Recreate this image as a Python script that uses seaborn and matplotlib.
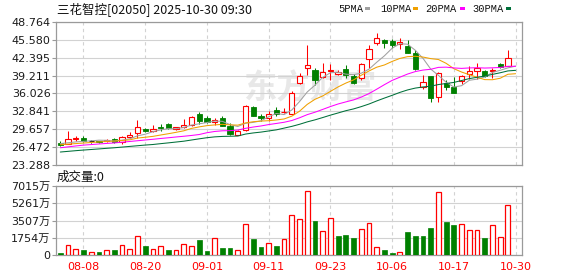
import matplotlib
matplotlib.use("Agg")
import matplotlib.pyplot as plt
import numpy as np
import pandas as pd
import seaborn as sns
from matplotlib.patches import Rectangle

sns.set_theme(style="white")
plt.rcParams['font.family'] = ['DejaVu Sans', 'Noto Sans CJK SC']

# ---------------- data ----------------
title = "三花智控[02050] 2025-10-30 09:30"
dates = ["08-05", "08-06", "08-07", "08-08", "08-11", "08-12", "08-13", "08-14", "08-15", "08-18",
         "08-19", "08-20", "08-21", "08-22", "08-25", "08-26", "08-27", "08-28", "08-29", "09-01",
         "09-02", "09-03", "09-04", "09-05", "09-08", "09-09", "09-10", "09-11", "09-12", "09-15",
         "09-16", "09-17", "09-18", "09-19", "09-22", "09-23", "09-24", "09-25", "09-26", "09-29",
         "09-30", "10-02", "10-03", "10-06", "10-08", "10-09", "10-10", "10-13", "10-14", "10-15",
         "10-16", "10-17", "10-20", "10-21", "10-22", "10-23", "10-24", "10-27", "10-28", "10-30"]
tick_dates = ["08-08", "08-20", "09-01", "09-11", "09-23", "10-06", "10-17", "10-30"]

opens = [27.24, 27.06, 27.94, 28.12, 27.53, 27.53, 27.53, 28.00, 27.47, 28.29,
         28.99, 29.70, 29.29, 30.05, 30.58, 29.76, 29.99, 30.46, 32.34, 31.63,
         30.93, 31.63, 30.17, 28.70, 29.58, 33.57, 32.10, 31.63, 33.10, 32.69,
         32.40, 37.90, 40.50, 40.15, 38.90, 40.10, 39.50, 40.34, 39.14, 38.74,
         42.10, 45.08, 45.58, 45.40, 44.85, 44.49, 43.30, 37.25, 39.14, 35.35,
         37.95, 37.24, 38.31, 39.45, 40.09, 40.09, 40.00, 41.20, 41.00]
highs = [27.53, 29.29, 28.53, 28.41, 27.82, 27.65, 27.94, 28.12, 28.53, 29.17,
         31.34, 29.88, 30.46, 30.58, 30.70, 30.05, 31.46, 31.93, 32.69, 31.93,
         31.63, 32.10, 30.75, 29.58, 33.98, 33.80, 32.46, 32.92, 33.68, 33.51,
         36.50, 39.70, 44.67, 40.50, 41.40, 41.30, 40.20, 41.10, 39.50, 41.42,
         44.67, 46.75, 45.70, 45.80, 45.90, 45.58, 43.76, 39.30, 39.20, 39.84,
         38.40, 38.90, 39.30, 40.98, 41.50, 40.20, 40.60, 41.40, 43.80]
lows = [26.65, 27.06, 27.53, 27.41, 27.24, 27.24, 27.41, 27.24, 27.06, 28.12,
        28.12, 29.17, 29.17, 29.29, 29.76, 29.52, 29.88, 30.17, 30.64, 30.75,
        30.46, 30.17, 28.70, 28.58, 29.41, 31.93, 31.16, 31.05, 32.10, 32.51,
        32.30, 37.70, 39.30, 37.60, 38.70, 38.40, 39.30, 38.80, 37.80, 38.50,
        40.50, 44.64, 44.08, 44.20, 44.00, 43.20, 40.13, 36.90, 34.60, 34.56,
        36.60, 36.10, 37.70, 38.60, 38.60, 38.96, 38.70, 40.50, 40.90]
closes = [26.83, 27.94, 28.12, 27.53, 27.53, 27.41, 27.82, 27.47, 28.35, 28.70,
          30.05, 29.29, 29.70, 29.94, 29.82, 29.99, 30.46, 31.81, 31.05, 30.93,
          31.28, 30.29, 28.82, 29.41, 33.80, 32.10, 31.63, 32.46, 32.34, 32.81,
          36.20, 39.13, 41.10, 38.43, 39.91, 40.20, 39.80, 39.32, 37.95, 41.23,
          43.90, 45.86, 45.08, 44.70, 45.25, 43.30, 40.35, 38.02, 35.17, 39.62,
          37.24, 36.17, 39.14, 40.03, 40.51, 39.14, 40.30, 40.80, 42.30]
close_before_first = 27.20
volumes_wan = [203, 983, 576, 508, 271, 305, 474, 508, 983, 576,
               1898, 915, 576, 881, 508, 474, 1085, 881, 1525, 407,
               1694, 712, 712, 474, 3118, 1627, 813, 1186, 915, 1593,
               4067, 3626, 6507, 3457, 2440, 3728, 1932, 2033, 1728, 2609,
               3219, 779, 508, 203, 305, 2338, 1932, 1932, 2745, 6371,
               3355, 3050, 3118, 2508, 2508, 1728, 3016, 1796, 5083]

ma5 = [27.10, 27.25, 27.40, 27.50, 27.59, 27.71, 27.68, 27.55, 27.72, 27.95,
       28.48, 28.77, 29.22, 29.54, 29.76, 29.75, 29.98, 30.40, 30.63, 30.85,
       31.11, 31.07, 30.47, 30.15, 30.72, 30.88, 31.15, 31.88, 32.47, 32.27,
       33.09, 34.59, 36.30, 37.51, 38.91, 39.71, 39.82, 39.47, 39.38, 39.64,
       40.36, 41.59, 42.74, 44.09, 44.90, 44.81, 43.73, 42.29, 40.38, 39.25,
       38.03, 37.18, 37.42, 38.38, 38.58, 38.96, 39.78, 40.16, 40.59, 40.90]
ma10 = [26.90, 27.00, 27.10, 27.20, 27.30, 27.40, 27.48, 27.55, 27.65, 27.77,
        28.09, 28.23, 28.39, 28.63, 28.86, 29.11, 29.38, 29.81, 30.08, 30.30,
        30.43, 30.53, 30.44, 30.39, 30.78, 31.00, 31.11, 31.18, 31.31, 31.49,
        31.99, 32.87, 34.09, 34.99, 35.59, 36.40, 37.20, 37.88, 38.45, 39.28,
        40.04, 40.71, 41.11, 41.74, 42.27, 42.59, 42.66, 42.52, 42.24, 42.08,
        41.40, 40.45, 39.85, 39.38, 38.92, 38.50, 38.48, 38.74, 39.45, 39.55]
ma20 = [26.36, 26.52, 26.68, 26.83, 26.93, 27.03, 27.13, 27.22, 27.35, 27.48,
        27.61, 27.74, 27.87, 28.01, 28.14, 28.28, 28.41, 28.55, 28.72, 29.04,
        29.26, 29.38, 29.41, 29.51, 29.82, 30.05, 30.24, 30.49, 30.69, 30.90,
        31.21, 31.70, 32.26, 32.69, 33.19, 33.70, 34.16, 34.53, 34.88, 35.39,
        36.01, 36.79, 37.60, 38.36, 38.93, 39.49, 39.93, 40.20, 40.34, 40.68,
        40.72, 40.58, 40.50, 40.58, 40.62, 40.56, 40.60, 40.66, 40.86, 40.88]
ma30 = [25.60, 25.72, 25.84, 25.95, 26.05, 26.15, 26.26, 26.36, 26.48, 26.60,
        26.72, 26.84, 26.94, 27.09, 27.23, 27.38, 27.53, 27.74, 27.95, 28.15,
        28.30, 28.38, 28.41, 28.45, 28.80, 29.00, 29.15, 29.35, 29.55, 29.86,
        30.17, 30.54, 30.97, 31.33, 31.74, 32.17, 32.56, 32.96, 33.28, 33.69,
        34.15, 34.70, 35.21, 35.70, 36.22, 36.66, 36.99, 37.19, 37.33, 37.62,
        37.81, 38.00, 38.34, 38.68, 38.91, 39.14, 39.43, 39.72, 40.05, 40.15]

price_ticks = ["23.288", "26.472", "29.657", "32.841", "36.026", "39.211", "42.395", "45.580", "48.764"]
vol_ticks = [0, 1754, 3507, 5261, 7015]
vol_tick_labels = ["0", "1754万", "3507万", "5261万", "7015万"]
ma_names = ["5PMA", "10PMA", "20PMA", "30PMA"]

# ---------------- styling ----------------
RED = "#ff0000"
GREEN = "#008000"
MA_COLORS = ["#a0a0a0", "#f0a000", "#ff00ff", "#00703a"]
GRID = "#d2d2d2"
SPINE = "#9a9a9a"

W, H = 578, 276
fig = plt.figure(figsize=(W / 100, H / 100), dpi=100)
fig.patch.set_facecolor("white")


def fx(px):
    return px / W


def fy(py):
    return 1 - py / H


L, R = 56, 522
ax = fig.add_axes([fx(L), fy(165), (R - L) / W, (165 - 22) / H])
axv = fig.add_axes([fx(L), fy(255), (R - L) / W, (255 - 186) / H])

n = len(closes)
idx = np.arange(n)
o = np.array(opens); c = np.array(closes); hi = np.array(highs); lo = np.array(lows)
up = c > o
dn = c < o
flat = c == o

# wicks
wick_colors = np.where(up, RED, np.where(dn, GREEN, "#000000"))
ax.vlines(idx, lo, hi, colors=wick_colors, linewidth=0.75, zorder=2)
# bodies
bw = 0.68
ax.bar(idx[up], (c - o)[up], bottom=o[up], width=bw, facecolor="white",
       edgecolor=RED, linewidth=0.8, zorder=3)
ax.bar(idx[dn], (o - c)[dn], bottom=c[dn], width=bw, facecolor=GREEN,
       edgecolor=GREEN, linewidth=0.6, zorder=3)
ax.hlines(o[flat], idx[flat] - bw / 2, idx[flat] + bw / 2, colors="#000000", linewidth=0.9, zorder=3)

# moving averages
slots = np.arange(len(ma5))
ma_df = pd.DataFrame({"slot": slots, "5PMA": ma5, "10PMA": ma10, "20PMA": ma20, "30PMA": ma30})
for name, col in zip(ma_names, MA_COLORS):
    sns.lineplot(data=ma_df, x="slot", y=name, ax=ax, color=col, linewidth=0.75,
                 estimator=None, legend=False, zorder=4)

# watermark
ax.text(0.545, 0.53, "东方财富", transform=ax.transAxes, ha="center", va="center",
        fontsize=24, color="#e8e8e8", fontweight="bold", zorder=0.3,
        family=["Noto Sans CJK SC", "DejaVu Sans"])

# volume
prev = np.concatenate([[close_before_first], c[:-1]])
vup = c >= prev
v = np.array(volumes_wan)
axv.bar(idx[vup], v[vup], width=0.62, facecolor="white", edgecolor=RED, linewidth=0.9, zorder=3)
axv.bar(idx[~vup], v[~vup], width=0.62, facecolor=GREEN, edgecolor=GREEN, linewidth=0.5, zorder=3)

tick_pos = [dates.index(d) for d in tick_dates]
xlim = (-0.56, 59.83)

# main axes styling
ax.set_xlim(*xlim)
ax.set_ylim(float(price_ticks[0]), float(price_ticks[-1]))
ax.set_yticks([float(t) for t in price_ticks])
ax.set_yticklabels(price_ticks)
ax.set_xticks(tick_pos)
ax.set_xticklabels([])
ax.set_xlabel(""); ax.set_ylabel("")
ax.grid(True, axis="y", color=GRID, linewidth=0.8, linestyle="-", zorder=0.5)
ax.grid(True, axis="x", color=GRID, linewidth=0.8, linestyle=(0, (3, 3)), zorder=0.5)
ax.set_axisbelow(True)
ax.tick_params(axis="y", left=True, length=3, width=0.8, color=SPINE, pad=1,
               labelsize=8, labelcolor="#1a1a1a")
ax.tick_params(axis="x", bottom=False, length=0)
for s in ax.spines.values():
    s.set_color(SPINE); s.set_linewidth(0.9); s.set_visible(True)

# volume axes styling
axv.set_xlim(*xlim)
axv.set_ylim(0, vol_ticks[-1])
axv.set_yticks(vol_ticks)
axv.set_yticklabels(vol_tick_labels)
axv.set_xticks(tick_pos)
axv.set_xticklabels(tick_dates)
axv.set_xlabel(""); axv.set_ylabel("")
axv.grid(True, axis="y", color=GRID, linewidth=0.8, linestyle="-")
axv.grid(True, axis="x", color=GRID, linewidth=0.8, linestyle=(0, (3, 3)))
axv.set_axisbelow(True)
axv.tick_params(axis="y", left=True, length=3, width=0.8, color=SPINE, pad=1,
                labelsize=8, labelcolor="#1a1a1a")
axv.tick_params(axis="x", bottom=False, length=0, pad=5, labelsize=8, labelcolor=RED)
for s in axv.spines.values():
    s.set_color(SPINE); s.set_linewidth(0.9); s.set_visible(True)

# header texts
fig.text(fx(57), fy(9.5), title, ha="left", va="center", fontsize=9, color="#111111",
         family=["Noto Sans CJK SC", "DejaVu Sans"])
fig.text(fx(57), fy(177), "成交量:0", ha="left", va="center", fontsize=9, color="#111111",
         family=["Noto Sans CJK SC", "DejaVu Sans"])

legend_text_x = [338, 380, 425, 472]
legend_mark_x = [365, 413, 460, 505.5]
for name, col, tx, mx in zip(ma_names, MA_COLORS, legend_text_x, legend_mark_x):
    fig.text(fx(tx), fy(9), name, ha="left", va="center", fontsize=7.5, color="#111111",
             family=["Liberation Mono", "DejaVu Sans"])
    fig.patches.append(Rectangle((fx(mx), fy(10.2)), 5 / W, 3 / H, transform=fig.transFigure,
                                 facecolor=col, edgecolor="none"))

fig.savefig("out.png", dpi=100, facecolor="white")
